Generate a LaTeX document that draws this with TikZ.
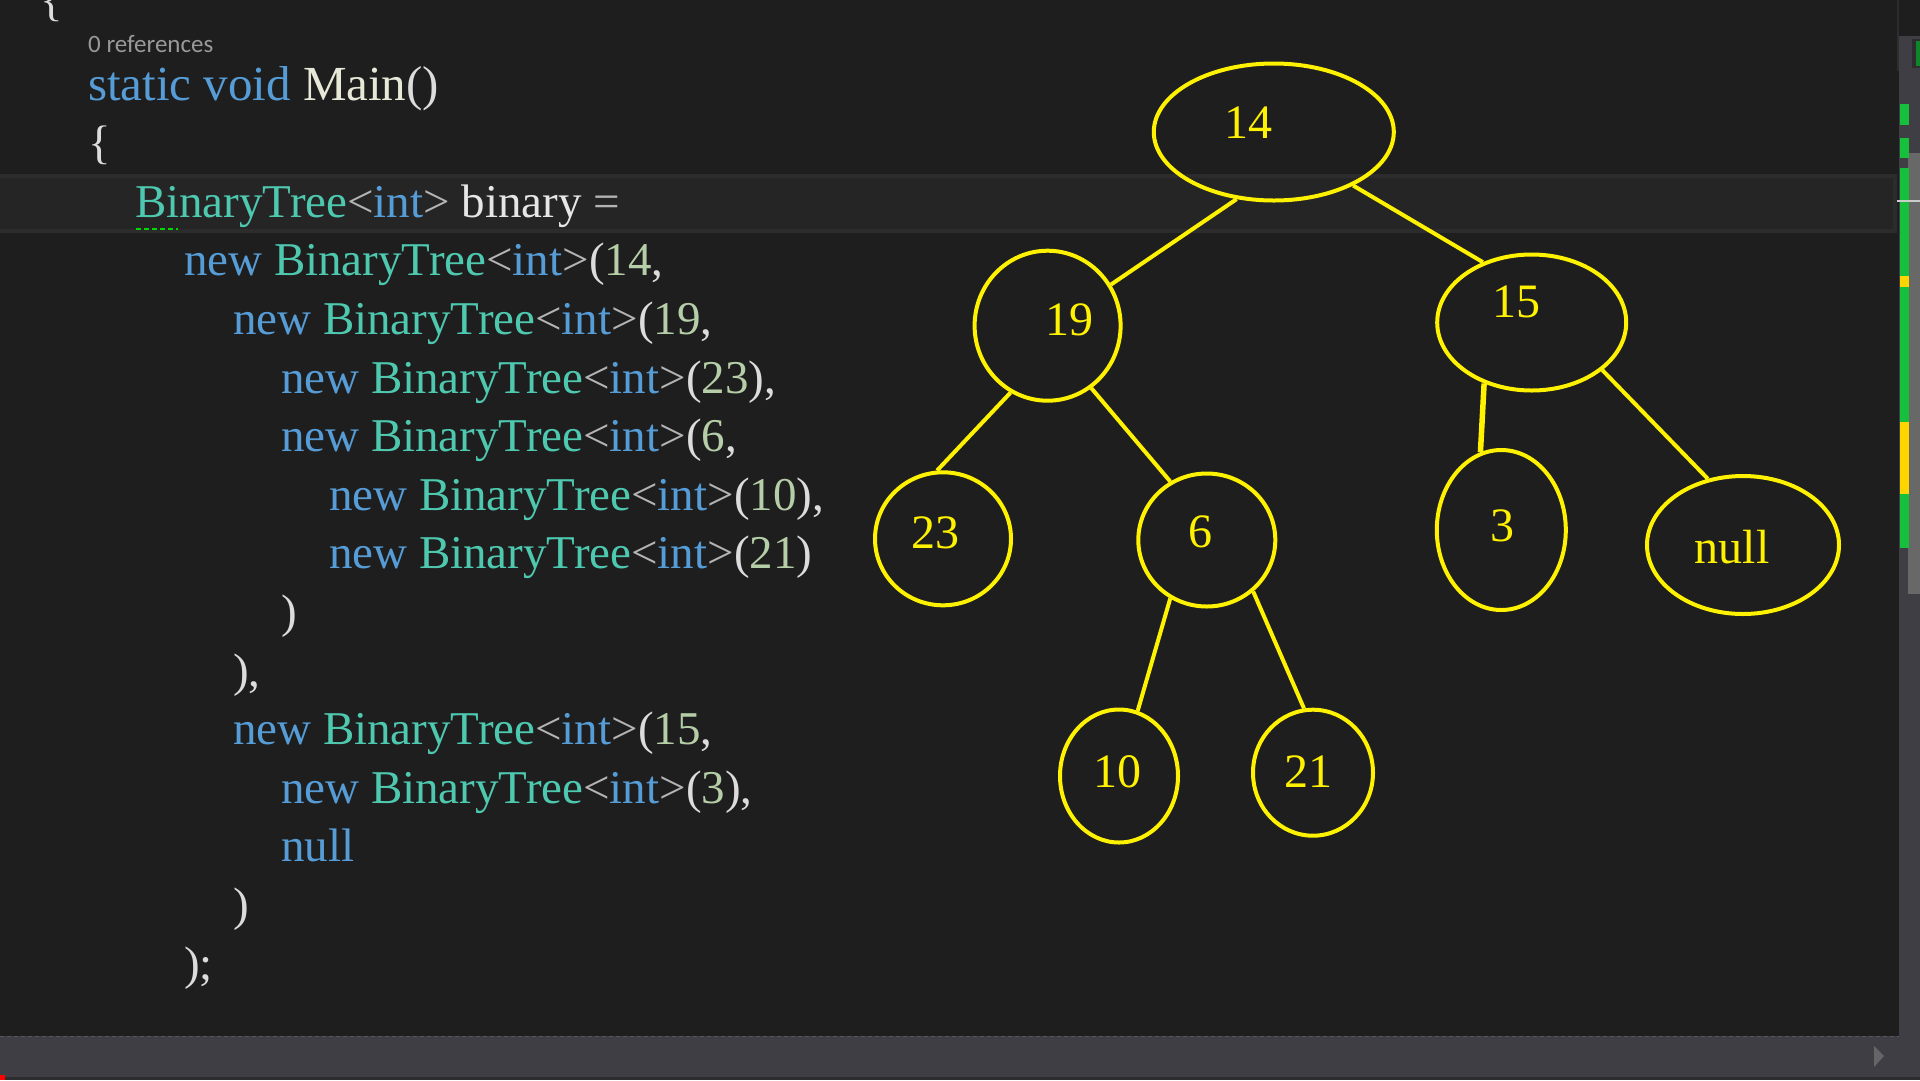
\documentclass[tikz,border=0pt]{standalone}
\usepackage{fontspec}
\setmainfont{Liberation Serif}
\newfontfamily\uifont{Carlito}
\usetikzlibrary{shapes.geometric}
\definecolor{bg}{HTML}{1E1E1E}
\definecolor{hlfill}{HTML}{252525}
\definecolor{hlline}{HTML}{2C2C2C}
\definecolor{barbg}{HTML}{3E3E44}
\definecolor{bardark}{HTML}{2D2D30}
\definecolor{thumb}{HTML}{686868}
\definecolor{mgreen}{HTML}{16C03C}
\definecolor{myellow}{HTML}{FFD500}
\definecolor{yel}{HTML}{FFF200}
\definecolor{ckw}{HTML}{569CD6}
\definecolor{cty}{HTML}{4EC9B0}
\definecolor{cnum}{HTML}{B5CEA8}
\definecolor{cpun}{HTML}{DCDCDC}
\definecolor{cang}{HTML}{B4B4B4}
\definecolor{cid}{HTML}{E6E6E6}
\definecolor{cmain}{HTML}{E8E8D8}
\definecolor{clens}{HTML}{999999}
\newcommand\cdKw[1]{\textcolor{ckw}{#1}}
\newcommand\cdTy[1]{\textcolor{cty}{#1}}
\newcommand\cdNum[1]{\textcolor{cnum}{#1}}
\newcommand\cdPun[1]{\textcolor{cpun}{#1}}
\newcommand\cdBT{\cdKw{new} \cdTy{BinaryTree}\textcolor{cang}{<}\cdKw{int}\textcolor{cang}{>}\cdPun{(}}
\tikzset{
  code/.style={anchor=base west, inner sep=0pt, outer sep=0pt, font=\fontsize{47}{56}\selectfont, text=cpun},
  tnode/.style={ellipse, draw=yel, line width=4pt, inner sep=0pt},
  tlab/.style={inner sep=0pt, text=yel, font=\fontsize{48}{56}\selectfont},
  edge/.style={draw=yel, line width=4pt},
}
\begin{document}
\begin{tikzpicture}[x=1pt,y=-1pt]
% background
\fill[bg] (0,0) rectangle (1920,1080);
\useasboundingbox (0,0) rectangle (1920,1080);
% current line highlight
\fill[hlline] (0,174) rectangle (1897,233);
\fill[hlfill] (0,178) rectangle (1893,229);
% right scrollbar column
\fill[barbg] (1899,36) rectangle (1920,1036);
\fill[bardark] (1897,0) rectangle (1899,71);
\fill[bardark] (1912,39) rectangle (1920,68);
\fill[mgreen!70!black] (1916,41) rectangle (1920,66);
\fill[thumb] (1908,153) rectangle (1920,594);
\fill[mgreen] (1900,104) rectangle (1909,125);
\fill[mgreen] (1900,138) rectangle (1909,158);
\fill[mgreen] (1900,168) rectangle (1909,276);
\fill[myellow] (1900,276) rectangle (1909,287);
\fill[mgreen] (1900,287) rectangle (1909,422);
\fill[myellow] (1900,422) rectangle (1909,494);
\fill[mgreen] (1900,494) rectangle (1909,548);
\fill[white!80!black] (1897,200) rectangle (1920,202);
% bottom bar
\fill[barbg] (0,1036) rectangle (1920,1077);
\fill[bardark] (0,1077) rectangle (1920,1080);
\draw[bardark!80!white, line width=1.5pt, dash pattern=on 4pt off 3pt] (0,1036.5) -- (1899,1036.5);
\fill[red] (0,1075) rectangle (5,1080);
\fill[gray!60!barbg] (1874,1046) -- (1884,1056) -- (1874,1067) -- cycle;

% code
\node[code] (brace0) at (40,15) {\{};
\node[anchor=base west, inner sep=0pt, text=clens, font=\uifont\fontsize{25}{30}\selectfont] (lens) at (88,52) {0 references};
\node[code, font=\fontsize{49}{56}\selectfont] (l0) at (88,100) {\cdKw{static void} \textcolor{cmain}{Main}()};
\node[code] (l1) at (88,158.6) {\{};
\node[code] (l2) at (135,217.2) {\cdTy{BinaryTree}\textcolor{cang}{<}\cdKw{int}\textcolor{cang}{>} \textcolor{cid}{binary} \textcolor{cang}{=}};
\draw[green!85!black, line width=2pt, dash pattern=on 5pt off 3pt] (l2.west |- 0,228.7) ++(1,0) -- ++(42,0);
\node[code] (l3) at (184,275.8) {\cdBT\cdNum{14},};
\node[code] (l4) at (233,334.4) {\cdBT\cdNum{19},};
\node[code] (l5) at (281,393) {\cdBT\cdNum{23}),};
\node[code] (l6) at (281,451.6) {\cdBT\cdNum{6},};
\node[code] (l7) at (329,510.2) {\cdBT\cdNum{10}),};
\node[code] (l8) at (329,568.8) {\cdBT\cdNum{21})};
\node[code] (l9) at (281,627.4) {)};
\node[code] (l10) at (233,686) {),};
\node[code] (l11) at (233,744.6) {\cdBT\cdNum{15},};
\node[code] (l12) at (281,803.2) {\cdBT\cdNum{3}),};
\node[code] (l13) at (281,861.8) {\cdKw{null}};
\node[code] (l14) at (233,920.4) {)};
\node[code] (l15) at (184,979) {);};

% tree nodes
\node[tnode, minimum width=240pt, minimum height=137pt] (n14) at (1273.8,132) {};
\node[tnode, minimum width=146pt, minimum height=150pt] (n19) at (1047.6,325.7) {};
\node[tnode, minimum width=189pt, minimum height=136pt] (n15) at (1531.7,322.5) {};
\node[tnode, minimum width=136pt, minimum height=133pt] (n23) at (943,538.8) {};
\node[tnode, minimum width=137pt, minimum height=133pt] (n6) at (1206.8,540) {};
\node[tnode, minimum width=129pt, minimum height=160pt] (n3) at (1501.3,530) {};
\node[tnode, minimum width=192pt, minimum height=138pt] (nnull) at (1743,545) {};
\node[tnode, minimum width=118pt, minimum height=133pt] (n10) at (1119,776) {};
\node[tnode, minimum width=120pt, minimum height=126pt] (n21) at (1313,772.7) {};

% labels
\node[tlab] (t14) at (1248,122.5) {14};
\node[tlab] (t19) at (1069,319.6) {19};
\node[tlab] (t15) at (1516,302) {15};
\node[tlab] (t23) at (935.5,532.7) {23};
\node[tlab] (t6) at (1200,531.4) {6};
\node[tlab] (t3) at (1502,525.5) {3};
\node[tlab] (tnull) at (1732,547) {null};
\node[tlab] (t10) at (1117,771.4) {10};
\node[tlab] (t21) at (1308,771.4) {21};

% connectors
\draw[edge] (n14.241) -- (n19.33);
\draw[edge] (n14.326) -- (n15.129);
\draw[edge] (n19.241) -- (n23.95);
\draw[edge] (n19.305) -- (n6.122);
\draw[edge] (n6.238) -- (n10.74);
\draw[edge] (n6.312) -- (n21.98);
\draw[edge, line width=5.5pt] (n15.232) -- (n3.105);
\draw[edge] (n15.326) -- (nnull.118);
\end{tikzpicture}
\end{document}
